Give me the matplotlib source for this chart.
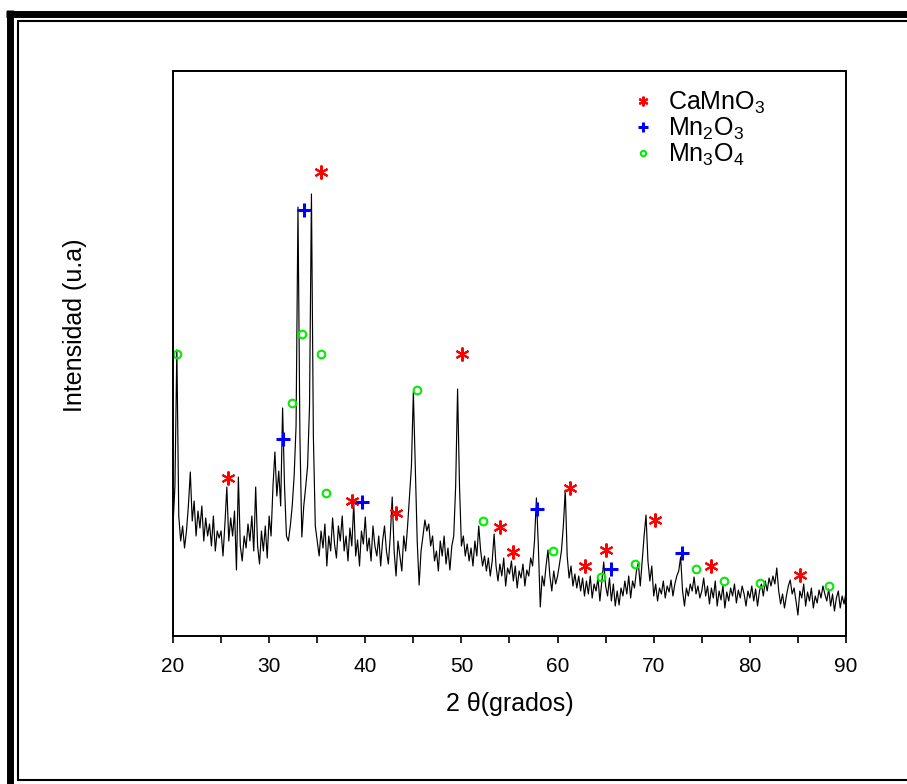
import matplotlib.pyplot as plt
from matplotlib.lines import Line2D
from matplotlib.ticker import MultipleLocator
import numpy as np

# --- estilo tipo Origin (Arial) ---
plt.rcParams.update({
    'font.family': ['Liberation Sans', 'DejaVu Sans'],
    'mathtext.fontset': 'custom',
    'mathtext.rm': 'Liberation Sans',
    'mathtext.it': 'Liberation Sans',
    'mathtext.default': 'regular',
    'axes.linewidth': 1.4,
})

# --- difractograma, paso 0.2 grados desde 20 ---
two_theta = np.arange(20.0, 90.01, 0.2)
intensity = [
    110, 150, 286, 120, 95, 110, 88, 105, 130, 164, 115, 135, 100, 125, 108, 130, 95, 118, 100, 112, 90, 120, 85, 105, 98,
    105, 80, 112, 149, 95, 118, 100, 125, 66, 159, 90, 75, 100, 88, 112, 95, 120, 85, 149, 90, 72, 105, 85, 110, 78,
    120, 100, 150, 184, 140, 165, 130, 228, 150, 100, 95, 110, 130, 160, 210, 429, 200, 99, 130, 149, 170, 230, 442, 200, 110,
    95, 80, 105, 88, 112, 70, 100, 85, 118, 92, 78, 110, 95, 120, 85, 100, 75, 108, 90, 133, 80, 96, 70, 105, 92,
    119, 85, 98, 75, 110, 90, 80, 100, 70, 95, 110, 85, 72, 100, 139, 85, 60, 95, 80, 65, 100, 85, 110, 140, 170,
    244, 170, 95, 51, 85, 100, 116, 105, 112, 90, 100, 75, 85, 65, 95, 80, 100, 72, 88, 66, 90, 100, 150, 247, 150,
    90, 100, 80, 92, 75, 88, 70, 95, 80, 110, 85, 70, 80, 65, 78, 60, 75, 102, 70, 55, 72, 60, 78, 50, 68,
    62, 75, 55, 70, 48, 65, 58, 72, 50, 66, 60, 78, 70, 95, 138, 90, 29, 60, 50, 70, 86, 60, 45, 65, 52,
    60, 72, 85, 110, 146, 80, 58, 70, 50, 62, 48, 60, 45, 58, 40, 55, 42, 60, 38, 52, 45, 58, 35, 55, 74,
    50, 40, 58, 35, 52, 30, 45, 31, 48, 40, 55, 42, 60, 38, 55, 48, 65, 73, 50, 75, 100, 121, 75, 55, 70,
    40, 52, 35, 48, 42, 55, 38, 50, 44, 56, 40, 52, 60, 65, 79, 45, 30, 48, 40, 52, 45, 59, 42, 50, 38,
    45, 58, 40, 50, 32, 48, 38, 55, 30, 45, 36, 50, 28, 44, 35, 48, 40, 52, 33, 46, 38, 50, 42, 30, 45,
    38, 50, 35, 47, 30, 45, 52, 40, 55, 45, 58, 50, 60, 52, 68, 45, 32, 42, 28, 40, 50, 56, 42, 48, 35,
    21, 45, 38, 52, 30, 44, 35, 48, 28, 40, 33, 46, 38, 50, 42, 35, 47, 30, 42, 25, 38, 45, 28, 40, 32, 44,
]

# --- marcas de fases ---
camno3_x = [35.39, 25.72, 38.62, 43.20, 50.06, 54.01, 55.37, 61.29, 62.85, 65.04, 70.13, 75.96, 85.22]
camno3_y = [464, 158, 135, 123, 282, 109, 84, 148, 70, 86, 116, 70, 61]

mn2o3_x = [33.63, 31.47, 39.69, 57.89, 65.53, 72.91]
mn2o3_y = [426, 197, 134, 127, 67, 83]

mn3o4_x = [20.45, 33.45, 35.39, 32.38, 35.95, 45.35, 52.24, 59.49, 64.55, 68.05, 74.37, 77.31, 81.09, 88.24]
mn3o4_y = [282, 302, 282, 233, 143, 246, 115, 85, 59, 72, 67, 55, 53, 50]

W, H = 907, 784
fig = plt.figure(figsize=(W / 100, H / 100), dpi=100)
ax = fig.add_axes([173 / W, 1 - 636 / H, (846 - 173) / W, (636 - 71) / H])

ax.plot(two_theta, intensity, color='black', lw=0.85)

ax.plot(camno3_x, camno3_y, ls='none', marker=(6, 2, 0), ms=10, mew=1.5,
        color='#ff0000', label='CaMnO$_3$')
ax.plot(mn2o3_x, mn2o3_y, ls='none', marker='+', ms=10, mew=2.2,
        color='#0000ff', label='Mn$_2$O$_3$')
ax.plot(mn3o4_x, mn3o4_y, ls='none', marker='o', ms=5.5, mew=1.5,
        mfc='none', mec='#00ee00', color='#00ee00', label='Mn$_3$O$_4$')

ax.set_xlim(20, 90)
ax.set_ylim(0, 565)
ax.xaxis.set_major_locator(MultipleLocator(10))
ax.xaxis.set_minor_locator(MultipleLocator(5))
ax.tick_params(axis='x', which='both', direction='out', length=5, width=1.2,
               labelsize=15, pad=10)
ax.set_yticks([])

ax.set_xlabel('2 θ(grados)', fontsize=18, labelpad=12)
ax.set_ylabel('Intensidad (u.a)', fontsize=18)
ax.yaxis.set_label_coords(-0.128, 0.55)

leg = ax.legend(loc='upper left', bbox_to_anchor=(0.665, 0.985), frameon=False,
                fontsize=18, handlelength=1.0, handletextpad=0.5,
                labelspacing=0.0, markerscale=0.7, borderaxespad=0)

# --- marco exterior de la ventana ---
def px(x0, y0, x1, y1, lw):
    fig.add_artist(Line2D([x0 / W, x1 / W], [1 - y0 / H, 1 - y1 / H],
                          transform=fig.transFigure, color='black', lw=lw,
                          solid_capstyle='butt'))

px(6, 13.5, W, 13.5, 5.0)
px(9.5, 10, 9.5, H, 5.0)
px(17, 21, W, 21, 1.5)
px(18, 21, 18, 780, 1.5)
px(17, 779.5, W, 779.5, 1.5)

fig.savefig('out.png', dpi=100)
